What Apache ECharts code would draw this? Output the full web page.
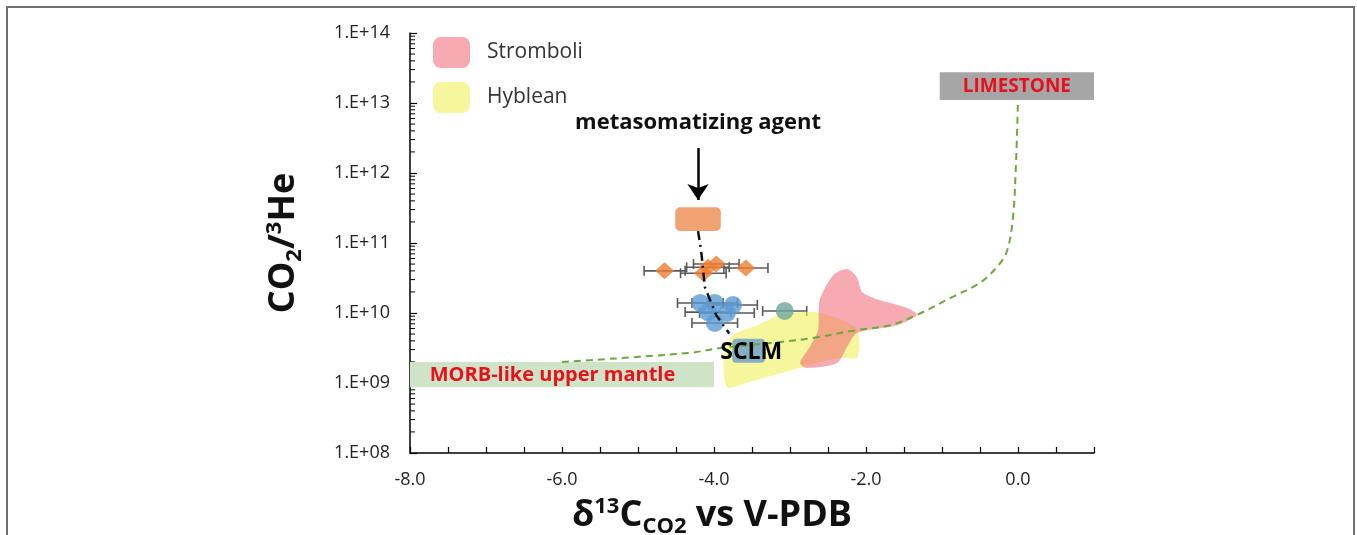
<!DOCTYPE html>
<html>
<head>
<meta charset="utf-8">
<script src="https://cdn.jsdelivr.net/npm/echarts@6/dist/echarts.min.js"></script>
<style>
  html, body { margin: 0; padding: 0; background: #ffffff; }
  #chart { width: 1357px; height: 535px; }
</style>
</head>
<body>
<div id="chart"></div>
<script>
// Axis ticks and labels
const xLabels = ['-8.0', '-6.0', '-4.0', '-2.0', '0.0'];
const yLabels = ['1.E+08', '1.E+09', '1.E+10', '1.E+11', '1.E+12', '1.E+13', '1.E+14'];
const minorMultipliers = [2, 3, 4, 5, 6, 7, 8, 9];
const decades = [1e8, 1e9, 1e10, 1e11, 1e12, 1e13];

// Samples: δ13C, CO2/3He, δ13C uncertainty
const diamondX = [-4.65, -4.14, -4.08, -3.97, -3.58];
const diamondY = [4.0e10, 3.7e10, 4.5e10, 5.0e10, 4.4e10];
const diamondErr = [0.27, 0.30, 0.28, 0.30, 0.29];

const circleX = [-4.18, -3.99, -3.75, -4.08, -3.83, -3.99];
const circleY = [1.39e10, 1.39e10, 1.3e10, 1.03e10, 1.0e10, 7.2e9];
const circleErr = [0.30, 0.30, 0.32, 0.30, 0.36, 0.30];

const tealX = [-3.07];
const tealY = [1.07e10];
const tealErr = [0.29];

// Fields
const stromboliX = [-2.25, -2.12, -2.05, -1.82, -1.46, -1.33, -1.59, -2.12, -2.25, -2.38, -2.78, -2.87, -2.74, -2.63, -2.61, -2.43];
const stromboliY = [4.25e10, 3.27e10, 2.0e10, 1.53e10, 1.18e10, 9.4e9, 6.7e9, 5.2e9, 3.27e9, 1.93e9, 1.64e9, 1.93e9, 3.27e9, 5.7e9, 1.53e10, 3.5e10];

const hybleanX = [-3.86, -3.75, -3.43, -3.13, -2.67, -2.25, -2.11, -2.11, -2.34, -2.61, -2.87, -3.20, -3.53, -3.82, -3.87];
const hybleanY = [2.77e9, 4.85e9, 6.7e9, 9.4e9, 1.03e10, 7.4e9, 5.7e9, 2.35e9, 2.27e9, 2.0e9, 1.64e9, 1.3e9, 1.03e9, 8.5e8, 1.3e9];

// MORB – limestone mixing curve
const mixX = [-6.0, -4.32, -3.92, -3.13, -2.70, -2.12, -1.68, -1.33, -0.86, -0.50, -0.28, -0.15, -0.07, -0.03, 0.0];
const mixY = [2.0e9, 2.69e9, 3.16e9, 3.85e9, 4.4e9, 5.7e9, 6.7e9, 9.4e9, 1.7e10, 2.7e10, 4.5e10, 7.4e10, 2.1e11, 1.1e12, 1.1e13];

// Metasomatizing agent – SCLM trend
const trendX = [-4.21, -4.17, -4.12, -3.97, -3.80];
const trendY = [1.48e11, 7.9e10, 2.34e10, 9.3e9, 5.1e9];

// End-member boxes: [x0, y0, x1, y1]
const morbBox = [-8.0, 8.7e8, -4.0, 2.0e9];
const limestoneBox = [-1.03, 1.1e13, 1.0, 2.75e13];
const agentBox = [-4.51, 1.48e11, -3.91, 3.24e11];
const sclmBox = [-3.76, 1.95e9, -3.33, 4.27e9];

// Annotations: [x, y, text]
const agentArrow = [[-4.21, 2.28e12], [-4.21, 4.1e11]];
const agentLabel = [-4.21, 5.2e12, 'metasomatizing agent'];
const sclmLabel = [-3.51, 2.77e9, 'SCLM'];
const morbLabel = [-7.74, 1.3e9, 'MORB-like upper mantle'];
const limestoneLabel = [-0.015, 1.74e13, 'LIMESTONE'];

const FONT = '"Open Sans", Lato, sans-serif';

const zip = (xs, ys) => xs.map((x, i) => [x, ys[i]]);

function polygonSeries(name, xs, ys, color) {
  return {
    name: name,
    type: 'custom',
    color: color,
    data: zip(xs, ys),
    encode: { x: 0, y: 1 },
    silent: true,
    renderItem: function (params, api) {
      if (params.dataIndex !== 0) return null;
      const pts = xs.map((x, i) => api.coord([x, ys[i]]));
      return {
        type: 'polygon',
        shape: { points: pts, smooth: 0.25 },
        style: { fill: color, stroke: null }
      };
    }
  };
}

function boxSeries(box, fill, radius) {
  return {
    type: 'custom',
    data: [box],
    encode: { x: [0, 2], y: [1, 3] },
    silent: true,
    renderItem: function (params, api) {
      const p0 = api.coord([box[0], box[1]]);
      const p1 = api.coord([box[2], box[3]]);
      return {
        type: 'rect',
        shape: {
          x: Math.min(p0[0], p1[0]), y: Math.min(p0[1], p1[1]),
          width: Math.abs(p1[0] - p0[0]), height: Math.abs(p1[1] - p0[1]), r: radius
        },
        style: { fill: fill }
      };
    }
  };
}

function textSeries(item, font, color, align) {
  return {
    type: 'custom',
    data: [item],
    encode: { x: 0, y: 1 },
    silent: true,
    z: 10,
    renderItem: function (params, api) {
      const p = api.coord([item[0], item[1]]);
      return {
        type: 'text',
        x: p[0], y: p[1],
        style: { text: item[2], font: font, fill: color, align: align, verticalAlign: 'middle' }
      };
    }
  };
}

function errorSeries(xs, ys, errs) {
  return {
    type: 'custom',
    data: xs.map((x, i) => [x, ys[i], errs[i]]),
    encode: { x: 0, y: 1 },
    silent: true,
    renderItem: function (params, api) {
      const x = api.value(0), y = api.value(1), e = api.value(2);
      const l = api.coord([x - e, y]);
      const r = api.coord([x + e, y]);
      const st = { stroke: '#5a5a5a', lineWidth: 1.6 };
      return {
        type: 'group',
        children: [
          { type: 'line', shape: { x1: l[0], y1: l[1], x2: r[0], y2: r[1] }, style: st },
          { type: 'line', shape: { x1: l[0], y1: l[1] - 5, x2: l[0], y2: l[1] + 5 }, style: st },
          { type: 'line', shape: { x1: r[0], y1: r[1] - 5, x2: r[0], y2: r[1] + 5 }, style: st }
        ]
      };
    }
  };
}

// Log minor ticks on the vertical axis
const minorTicks = [];
decades.forEach(d => minorMultipliers.forEach(m => minorTicks.push([-8, d * m])));

const titleRich = {
  b: { fontFamily: FONT, fontSize: 36, fontWeight: 'bold', color: '#111', lineHeight: 44 },
  sup: { fontFamily: FONT, fontSize: 22, fontWeight: 'bold', color: '#111', lineHeight: 24, verticalAlign: 'top', padding: [2, 0, 0, 0] },
  sub: { fontFamily: FONT, fontSize: 22, fontWeight: 'bold', color: '#111', lineHeight: 18, verticalAlign: 'bottom', padding: [12, 0, 0, 0] }
};

const chart = echarts.init(document.getElementById('chart'), null, { renderer: 'canvas' });

const option = {
  animation: false,
  backgroundColor: '#ffffff',
  grid: { left: 410, right: 263, top: 33, bottom: 82, outerBoundsMode: 'none', containLabel: false },
  legend: {
    orient: 'vertical',
    left: 433, top: 37,
    padding: 0,
    itemWidth: 37, itemHeight: 31, itemGap: 14,
    selectedMode: false,
    textStyle: { fontFamily: FONT, fontSize: 21, color: '#333', padding: [0, 0, 0, 12] },
    data: [
      { name: 'Stromboli', icon: 'roundRect', itemStyle: { color: 'rgba(240,100,115,0.55)' } },
      { name: 'Hyblean', icon: 'roundRect', itemStyle: { color: 'rgba(240,240,90,0.6)' } }
    ]
  },
  xAxis: {
    type: 'value',
    min: -8, max: 1, interval: 0.5,
    splitLine: { show: false },
    axisLine: { onZero: false, lineStyle: { color: '#000', width: 1.5 } },
    axisTick: { inside: true, length: 6, lineStyle: { color: '#000', width: 1.2 } },
    axisLabel: {
      margin: 18, fontFamily: FONT, fontSize: 18, color: '#222',
      formatter: function (v) {
        const k = Math.round(v * 10);
        return (k % 20 === 0 && v <= 0) ? xLabels[(v + 8) / 2] : '';
      }
    },
    name: '{b|δ}{sup|13}{b|C}{sub|CO2}{b| vs V-PDB}',
    nameLocation: 'middle',
    nameGap: 40,
    nameTextStyle: { padding: [0, 80, 0, 0], rich: titleRich }
  },
  yAxis: {
    type: 'log',
    logBase: 10,
    min: 1e8, max: 1e14,
    splitNumber: 6,
    splitLine: { show: false },
    axisLine: { onZero: false, lineStyle: { color: '#000', width: 1.5 } },
    axisTick: { inside: true, length: 7, lineStyle: { color: '#000', width: 1.2 } },
    axisLabel: {
      margin: 20, fontFamily: FONT, fontSize: 18, color: '#222',
      formatter: function (v) { return yLabels[Math.round(Math.log10(v)) - 8]; }
    },
    name: '{b|CO}{sub|2}{b|/}{sup|3}{b|He}',
    nameLocation: 'middle',
    nameRotate: 90,
    nameGap: 104,
    nameTextStyle: { rich: titleRich }
  },
  graphic: [
    { type: 'rect', silent: true, shape: { x: 7, y: 7, width: 1347, height: 560 },
      style: { fill: null, stroke: '#6e6e6e', lineWidth: 2 } }
  ],
  series: [
    // minor log ticks
    {
      type: 'custom', silent: true, data: minorTicks, encode: { x: 0, y: 1 },
      renderItem: function (params, api) {
        const p = api.coord([api.value(0), api.value(1)]);
        return { type: 'line', shape: { x1: p[0], y1: p[1], x2: p[0] + 5, y2: p[1] },
                 style: { stroke: '#000', lineWidth: 1 } };
      }
    },
    boxSeries(morbBox, '#cfe3c7', 0),
    boxSeries(limestoneBox, '#a6a6a6', 0),
    {
      type: 'line', data: zip(mixX, mixY), smooth: 0.35, symbol: 'none', silent: true,
      lineStyle: { color: '#6aaa3c', width: 2, type: [7, 5] }
    },
    errorSeries(diamondX, diamondY, diamondErr),
    errorSeries(circleX, circleY, circleErr),
    errorSeries(tealX, tealY, tealErr),
    {
      type: 'scatter', data: zip(diamondX, diamondY), symbol: 'diamond', symbolSize: [19, 17],
      itemStyle: { color: '#ed7d31' }, silent: true
    },
    {
      type: 'scatter', data: zip(circleX, circleY), symbol: 'circle', symbolSize: 18,
      itemStyle: { color: '#5b9bd5' }, silent: true
    },
    {
      type: 'scatter', data: zip(tealX, tealY), symbol: 'circle', symbolSize: 18,
      itemStyle: { color: '#6fa69a' }, silent: true
    },
    polygonSeries('Hyblean', hybleanX, hybleanY, 'rgba(240,240,90,0.6)'),
    polygonSeries('Stromboli', stromboliX, stromboliY, 'rgba(240,100,115,0.55)'),
    {
      type: 'line', data: zip(trendX, trendY), symbol: 'none', silent: true,
      lineStyle: { color: '#111', width: 2.5, type: [9, 5, 2, 5] }
    },
    boxSeries(agentBox, '#f0a272', 5),
    boxSeries(sclmBox, 'rgba(95,150,205,0.75)', 4),
    {
      type: 'lines', coordinateSystem: 'cartesian2d', silent: true,
      symbol: ['none', 'arrow'], symbolSize: 16,
      lineStyle: { color: '#000', width: 2.5, opacity: 1 },
      data: [{ coords: agentArrow }]
    },
    textSeries(agentLabel, 'bold 22px ' + FONT, '#111', 'center'),
    textSeries(sclmLabel, 'bold 23px ' + FONT, '#000', 'center'),
    textSeries(morbLabel, 'bold 20px ' + FONT, '#e8101c', 'left'),
    textSeries(limestoneLabel, 'bold 19px ' + FONT, '#e8101c', 'center')
  ]
};

chart.setOption(option);
</script>
</body>
</html>
